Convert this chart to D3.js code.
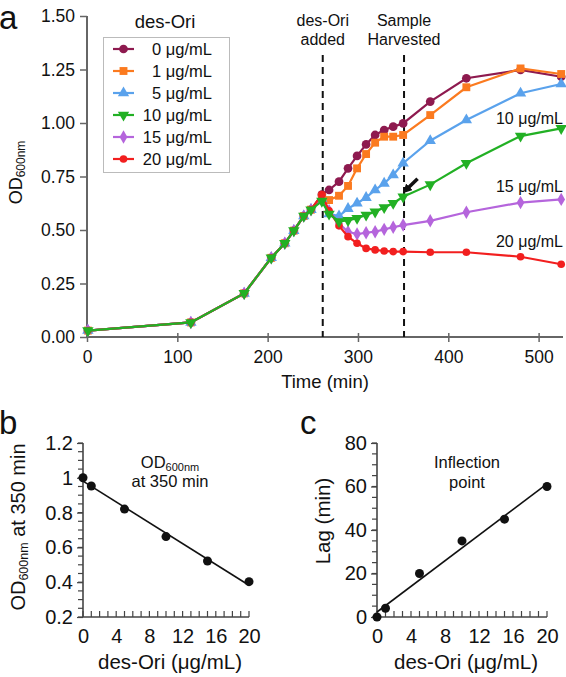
<!DOCTYPE html>
<html><head><meta charset="utf-8">
<script src="https://cdn.jsdelivr.net/npm/d3@7"></script>
<style>
html,body{margin:0;padding:0;background:#fff;}
svg{display:block;font-family:"Liberation Sans",Arial,sans-serif;}
</style></head>
<body>
<svg id="chart" width="566" height="677"></svg>
<script>
// ---------- Panel a data ----------
const timesEarly = [1, 115, 174, 204, 219, 229, 240, 248, 260];
const odEarly = [0.03, 0.068, 0.204, 0.37, 0.438, 0.497, 0.565, 0.595, 0.64];
const timesLate = [268, 279, 289, 299, 309, 319, 329, 339, 350, 380, 420, 480, 525];
const seriesNames = ["0 μg/mL", "1 μg/mL", "5 μg/mL", "10 μg/mL", "15 μg/mL", "20 μg/mL"];
const seriesColors = ["#8e1a4f", "#fb7a1f", "#5aa2ec", "#22b024", "#b565dc", "#f21f1f"];
const peak = [0.665, 0.655, 0.645, 0.635, 0.645, 0.665];
const od0 = [0.687, 0.726, 0.788, 0.846, 0.90, 0.944, 0.967, 0.983, 0.998, 1.10, 1.209, 1.248, 1.216];
const od1 = [0.64, 0.66, 0.706, 0.788, 0.855, 0.908, 0.936, 0.936, 0.944, 1.037, 1.167, 1.255, 1.229];
const od5 = [0.575, 0.565, 0.60, 0.625, 0.651, 0.687, 0.718, 0.757, 0.812, 0.917, 1.014, 1.139, 1.182];
const od10 = [0.575, 0.54, 0.545, 0.555, 0.57, 0.585, 0.605, 0.625, 0.655, 0.712, 0.812, 0.939, 0.975];
const od15 = [0.59, 0.53, 0.492, 0.481, 0.487, 0.492, 0.503, 0.513, 0.523, 0.543, 0.583, 0.628, 0.643];
const od20 = [0.59, 0.52, 0.469, 0.438, 0.414, 0.407, 0.402, 0.399, 0.399, 0.396, 0.396, 0.375, 0.34];
const lateValues = [od0, od1, od5, od10, od15, od20];
const xTicksA = [0, 100, 200, 300, 400, 500];
const yTicksA = [0, 0.25, 0.5, 0.75, 1.0, 1.25, 1.5];
const eventTimes = [261, 351];
const eventLabels = [["des-Ori", "added"], ["Sample", "Harvested"]];
const endLabels = ["10 μg/mL", "15 μg/mL", "20 μg/mL"];
const endLabelLevels = [0.995, 0.678, 0.42];

// ---------- Panel b / c data ----------
const conc = [0, 1, 5, 10, 15, 20];
const od350 = [1.0, 0.953, 0.82, 0.662, 0.522, 0.403];
const lag = [0, 4, 20, 35, 45, 60];
const xTicksBC = [0, 4, 8, 12, 16, 20];
const yTicksB = [0.2, 0.4, 0.6, 0.8, 1.0, 1.2];
const yTicksC = [0, 20, 40, 60, 80];

const svg = d3.select("#chart");
const FF = "Liberation Sans, Arial, sans-serif";
const TXT = "#111";

// ================= Panel a =================
const xA = d3.scaleLinear().domain([0, 527]).range([87, 563]);
const yA = d3.scaleLinear().domain([0, 1.5]).range([337, 16]);
const axisColor = "#666";

const gA = svg.append("g");
const yAx = gA.append("g").attr("transform", `translate(${xA(0)},0)`)
  .call(d3.axisLeft(yA).tickValues(yTicksA).tickFormat(d3.format(".2f")).tickSize(7).tickPadding(5));
const xAx = gA.append("g").attr("transform", `translate(0,${yA(0)})`)
  .call(d3.axisBottom(xA).tickValues(xTicksA).tickSize(5).tickPadding(9));
[yAx, xAx].forEach(ax => {
  ax.select(".domain").attr("stroke", axisColor).attr("stroke-width", 2);
  ax.selectAll(".tick line").attr("stroke", axisColor).attr("stroke-width", 1.5);
  ax.selectAll(".tick text").attr("font-size", 17.5).attr("fill", TXT).attr("font-family", FF);
});
xAx.select(".domain").attr("d", `M${xA(0)},0H${xA(527)}`);
xAx.selectAll(".tick line").attr("y1", -4);
yAx.select(".domain").attr("d", `M0,${yA(0)}V${yA(1.5)}`);

// event dashed lines
eventTimes.forEach((t, i) => {
  gA.append("line").attr("x1", xA(t)).attr("x2", xA(t)).attr("y1", 55).attr("y2", yA(0))
    .attr("stroke", "#111").attr("stroke-width", 2).attr("stroke-dasharray", "7,5");
  eventLabels[i].forEach((s, j) => {
    gA.append("text").attr("x", xA(t)).attr("y", 26 + j * 19).attr("text-anchor", "middle")
      .attr("font-size", 16).attr("fill", TXT).text(s);
  });
});

const symbolTypes = [d3.symbolCircle, d3.symbolSquare, d3.symbolTriangle, d3.symbolTriangle, d3.symbolDiamond, d3.symbolCircle];
const symbolSizes = [60, 62, 56, 56, 52, 46];
const symbolRot = [0, 0, 0, 180, 0, 0];

const series = seriesNames.map((n, i) => {
  const pts = timesEarly.map((t, k) => ({t, v: k === timesEarly.length - 1 ? peak[i] : odEarly[k]}))
    .concat(timesLate.map((t, k) => ({t, v: lateValues[i][k]})));
  return {name: n, color: seriesColors[i], pts, i};
});
const line = d3.line().x(d => xA(d.t)).y(d => yA(d.v));
const drawOrder = [0, 1, 2, 4, 5, 3];
drawOrder.forEach(i => {
  const s = series[i];
  const g = gA.append("g");
  g.append("path").attr("d", line(s.pts)).attr("fill", "none").attr("stroke", s.color).attr("stroke-width", 2.2);
  g.selectAll("path.m").data(s.pts).enter().append("path").attr("class", "m")
    .attr("d", d3.symbol().type(symbolTypes[i]).size(symbolSizes[i]))
    .attr("transform", d => `translate(${xA(d.t)},${yA(d.v)}) rotate(${symbolRot[i]})`)
    .attr("fill", s.color);
});

// end labels
endLabels.forEach((t, k) => {
  gA.append("text").attr("x", 563).attr("y", yA(endLabelLevels[k]))
    .attr("text-anchor", "end").attr("font-size", 16).attr("fill", TXT).text(t);
});

// small arrow pointing to harvested 10 ug/mL point
const arrowFrom = {t: 366, v: 0.74}, arrowTo = {t: 354, v: 0.69};
svg.append("defs").append("marker").attr("id", "ah").attr("viewBox", "0 0 10 10")
  .attr("refX", 4).attr("refY", 5).attr("markerWidth", 2.6).attr("markerHeight", 2.6).attr("orient", "auto")
  .append("path").attr("d", "M0,0L10,5L0,10Z").attr("fill", "#111");
gA.append("line").attr("x1", xA(arrowFrom.t)).attr("y1", yA(arrowFrom.v))
  .attr("x2", xA(arrowTo.t)).attr("y2", yA(arrowTo.v))
  .attr("stroke", "#111").attr("stroke-width", 3.5).attr("marker-end", "url(#ah)");

// legend
const lg = gA.append("g");
lg.append("text").attr("x", 165).attr("y", 28).attr("text-anchor", "middle").attr("font-size", 18.5).attr("fill", TXT).text("des-Ori");
lg.append("rect").attr("x", 103.5).attr("y", 37.5).attr("width", 126).attr("height", 135)
  .attr("fill", "#fff").attr("stroke", "#bbb").attr("stroke-width", 1);
series.forEach((s, i) => {
  const yy = 49 + i * 22;
  lg.append("line").attr("x1", 113).attr("x2", 134).attr("y1", yy).attr("y2", yy).attr("stroke", s.color).attr("stroke-width", 2.2);
  lg.append("path").attr("d", d3.symbol().type(symbolTypes[i]).size(symbolSizes[i]))
    .attr("transform", `translate(123.5,${yy}) rotate(${symbolRot[i]})`).attr("fill", s.color);
  lg.append("text").attr("x", 212).attr("y", yy + 6).attr("text-anchor", "end").attr("font-size", 16.5).attr("fill", TXT).text(s.name);
});

// axis titles
const yt = gA.append("text").attr("transform", `translate(22,${(yA(0) + yA(1.5)) / 2 - 4}) rotate(-90)`)
  .attr("text-anchor", "middle").attr("font-size", 18).attr("fill", TXT);
yt.append("tspan").text("OD");
yt.append("tspan").attr("font-size", 12).attr("dy", 3).text("600nm");
gA.append("text").attr("x", (xA(0) + xA(527)) / 2).attr("y", 388).attr("text-anchor", "middle")
  .attr("font-size", 18.5).attr("fill", TXT).text("Time (min)");
svg.append("text").attr("x", -1).attr("y", 29).attr("font-size", 33).attr("fill", TXT).text("a");

// ================= Panels b & c =================
function smallPanel(opts) {
  const g = svg.append("g");
  const x = d3.scaleLinear().domain([0, 20]).range([opts.x0, opts.x1]);
  const y = d3.scaleLinear().domain(opts.ydom).range([617, 443]);
  const col = "#444";
  const xMinor = d3.range(0, 21, 1);
  g.selectAll("line.xm").data(xMinor).enter().append("line")
    .attr("x1", d => x(d)).attr("x2", d => x(d)).attr("y1", 617).attr("y2", 611)
    .attr("stroke", col).attr("stroke-width", 1.2);
  const yMinor = d3.range(opts.ydom[0], opts.ydom[1] + opts.ystep / 2, opts.ystep);
  g.selectAll("line.ym").data(yMinor).enter().append("line")
    .attr("x1", opts.x0 - 5).attr("x2", opts.x0).attr("y1", d => y(d)).attr("y2", d => y(d))
    .attr("stroke", col).attr("stroke-width", 1.2);
  const ax = g.append("g").attr("transform", "translate(0,617)")
    .call(d3.axisBottom(x).tickValues(xTicksBC).tickSize(0).tickPadding(12));
  const ay = g.append("g").attr("transform", `translate(${opts.x0},0)`)
    .call(d3.axisLeft(y).tickValues(opts.yticks).tickFormat(opts.fmt).tickSize(6).tickPadding(4));
  [ax, ay].forEach(a => {
    a.select(".domain").attr("stroke", col).attr("stroke-width", 1.6);
    a.selectAll(".tick line").attr("stroke", col).attr("stroke-width", 1.2);
    a.selectAll(".tick text").attr("font-size", 20).attr("fill", TXT).attr("font-family", FF);
  });
  ax.select(".domain").attr("d", `M${opts.x0},0H${opts.x1}`);
  ay.select(".domain").attr("d", `M0,617V443`);
  // least-squares fit line through the points
  const mx = d3.mean(conc), my = d3.mean(opts.vals);
  const sxy = d3.sum(conc.map((c, i) => (c - mx) * (opts.vals[i] - my)));
  const sxx = d3.sum(conc.map(c => (c - mx) * (c - mx)));
  const slope = sxy / sxx, icpt = my - slope * mx;
  g.append("line").attr("x1", x(0)).attr("y1", y(icpt)).attr("x2", x(20)).attr("y2", y(icpt + slope * 20))
    .attr("stroke", "#111").attr("stroke-width", 1.6);
  g.selectAll("circle").data(conc).enter().append("circle")
    .attr("cx", d => x(d)).attr("cy", (d, i) => y(opts.vals[i])).attr("r", 4.5).attr("fill", "#111");
  g.append("text").attr("x", (opts.x0 + opts.x1) / 2 + 4).attr("y", 669).attr("text-anchor", "middle")
    .attr("font-size", 20.5).attr("fill", TXT).text("des-Ori (μg/mL)");
  return {g, x, y};
}

const pb = smallPanel({x0: 83, x1: 249, ydom: [0.2, 1.2], ystep: 0.05, yticks: yTicksB,
  fmt: d => (Math.abs(d - 1) < 1e-9 ? "1" : d3.format(".1f")(d)), vals: od350});
const ybt = pb.g.append("text").attr("transform", `translate(25,527) rotate(-90)`)
  .attr("text-anchor", "middle").attr("font-size", 20).attr("fill", TXT);
ybt.append("tspan").text("OD");
ybt.append("tspan").attr("font-size", 12.5).attr("dy", 3).text("600nm");
ybt.append("tspan").attr("dy", -3).text(" at 350 min");
const ann = pb.g.append("text").attr("x", 170).attr("y", 468).attr("text-anchor", "middle").attr("font-size", 16.5).attr("fill", TXT);
ann.append("tspan").text("OD");
ann.append("tspan").attr("font-size", 11).attr("dy", 3).text("600nm");
pb.g.append("text").attr("x", 170).attr("y", 487).attr("text-anchor", "middle").attr("font-size", 16.5).attr("fill", TXT).text("at 350 min");
svg.append("text").attr("x", -1).attr("y", 434).attr("font-size", 33).attr("fill", TXT).text("b");

const pc = smallPanel({x0: 377, x1: 547, ydom: [0, 80], ystep: 5, yticks: yTicksC, fmt: d3.format("d"), vals: lag});
pc.g.append("text").attr("transform", `translate(330,521) rotate(-90)`).attr("text-anchor", "middle")
  .attr("font-size", 20.5).attr("fill", TXT).text("Lag (min)");
pc.g.append("text").attr("x", 467).attr("y", 468).attr("text-anchor", "middle").attr("font-size", 16.5).attr("fill", TXT).text("Inflection");
pc.g.append("text").attr("x", 467).attr("y", 488).attr("text-anchor", "middle").attr("font-size", 16.5).attr("fill", TXT).text("point");
svg.append("text").attr("x", 300).attr("y", 434).attr("font-size", 33).attr("fill", TXT).text("c");
</script>
</body></html>
